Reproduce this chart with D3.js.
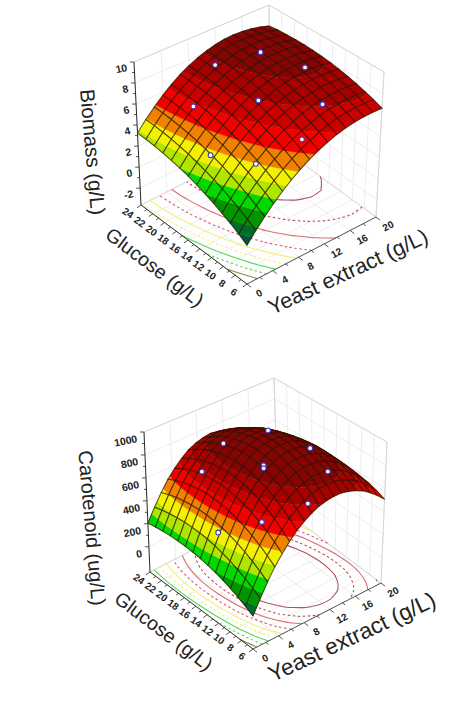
<!DOCTYPE html>
<html>
<head>
<meta charset="utf-8">
<title>Response surfaces</title>
<script src="https://cdn.jsdelivr.net/npm/d3@7"></script>
<style>
  html, body { margin: 0; background: #fff; }
  svg { display: block; }
  text { font-family: "Liberation Sans", Arial, sans-serif; fill: #222; }
</style>
</head>
<body>
<svg id="figure" width="453" height="701"></svg>
<script>
// Nodes at which the fitted surfaces are tabulated
const yeastNodes = [0, 1.67, 3.33, 5, 6.67, 8.33, 10, 11.67, 13.33, 15, 16.67, 18.33, 20];
const glucoseNodes = [6, 7.5, 9, 10.5, 12, 13.5, 15, 16.5, 18, 19.5, 21, 22.5, 24];

const yeastTicks = [0, 4, 8, 12, 16, 20];
const glucoseTicks = [6, 8, 10, 12, 14, 16, 18, 20, 22, 24];
const biomassTicks = [-2, 0, 2, 4, 6, 8, 10];
const carotenoidTicks = [0, 200, 400, 600, 800, 1000];

// Fitted biomass (g/L): one row per glucose node, one column per yeast node
const biomassRows = [
  [-0.20, 0.94, 1.98, 2.92, 3.74, 4.47, 5.09, 5.60, 6.01, 6.32, 6.52, 6.61, 6.60],
  [0.31, 1.45, 2.49, 3.41, 4.23, 4.95, 5.55, 6.05, 6.44, 6.72, 6.90, 6.97, 6.93],
  [0.78, 1.92, 2.95, 3.87, 4.68, 5.38, 5.97, 6.46, 6.83, 7.09, 7.24, 7.29, 7.22],
  [1.20, 2.34, 3.37, 4.29, 5.09, 5.78, 6.36, 6.82, 7.18, 7.42, 7.54, 7.56, 7.46],
  [1.59, 2.73, 3.75, 4.66, 5.46, 6.14, 6.70, 7.15, 7.49, 7.70, 7.81, 7.80, 7.68],
  [1.94, 3.08, 4.10, 5.00, 5.78, 6.45, 7.00, 7.44, 7.75, 7.95, 8.03, 8.00, 7.84],
  [2.25, 3.38, 4.40, 5.29, 6.07, 6.73, 7.26, 7.68, 7.98, 8.16, 8.21, 8.15, 7.97],
  [2.51, 3.65, 4.66, 5.55, 6.32, 6.96, 7.48, 7.89, 8.17, 8.32, 8.36, 8.27, 8.06],
  [2.74, 3.87, 4.88, 5.76, 6.52, 7.16, 7.67, 8.05, 8.31, 8.45, 8.46, 8.35, 8.11],
  [2.92, 4.06, 5.06, 5.94, 6.69, 7.31, 7.81, 8.18, 8.42, 8.53, 8.52, 8.38, 8.11],
  [3.07, 4.20, 5.20, 6.07, 6.81, 7.43, 7.91, 8.26, 8.49, 8.58, 8.54, 8.38, 8.08],
  [3.18, 4.31, 5.30, 6.17, 6.90, 7.50, 7.97, 8.31, 8.51, 8.58, 8.52, 8.33, 8.01],
  [3.24, 4.37, 5.36, 6.22, 6.95, 7.54, 7.99, 8.31, 8.50, 8.55, 8.46, 8.25, 7.89]
];

// Fitted carotenoid (ug/L), same layout
const carotenoidRows = [
  [40, 206, 348, 467, 564, 637, 687, 715, 719, 700, 658, 593, 505],
  [80, 256, 406, 532, 633, 709, 760, 785, 786, 762, 713, 639, 540],
  [115, 299, 457, 587, 692, 769, 820, 844, 841, 812, 756, 673, 564],
  [146, 337, 499, 634, 740, 818, 868, 889, 882, 847, 784, 693, 573],
  [172, 368, 534, 671, 778, 856, 904, 922, 910, 870, 799, 699, 569],
  [193, 392, 561, 698, 805, 882, 927, 942, 926, 880, 802, 694, 555],
  [209, 410, 579, 716, 822, 896, 939, 950, 929, 876, 792, 676, 528],
  [221, 421, 589, 725, 828, 899, 938, 945, 919, 860, 770, 647, 492],
  [228, 425, 590, 722, 822, 889, 924, 926, 896, 833, 737, 609, 449],
  [230, 422, 582, 710, 805, 867, 897, 895, 859, 792, 691, 559, 393],
  [227, 412, 566, 687, 776, 833, 858, 851, 811, 740, 637, 501, 334],
  [219, 394, 539, 652, 734, 786, 806, 795, 753, 679, 575, 440, 274],
  [207, 370, 503, 607, 681, 725, 740, 725, 681, 607, 503, 370, 207]
];

// Measured runs
const biomassRunYeast = [5, 10.1, 14.5, 2.6, 9.7, 16.7, 4.8, 9.7, 14.6];
const biomassRunGlucose = [10, 8.1, 9.6, 14.8, 14.7, 14.8, 19.9, 21.6, 19.6];
const biomassRunValue = [4.2, 5.7, 7.2, 3.9, 7.05, 8.2, 5.95, 7.9, 8.5];

const carotenoidRunYeast = [7.9, 12.4, 14.3, 4.7, 8, 8, 13.5, 9.1, 4.6, 1.9];
const carotenoidRunGlucose = [19.5, 17, 12.2, 19.7, 13, 13, 8.45, 6.9, 9.6, 14];
const carotenoidRunValue = [850, 935, 885, 675, 860, 835, 820, 700, 570, 410];

// Band edges on each surface; the first edge has no floor contour
const biomassLevels = [0.3, 0.9, 1.8, 2.6, 3.4, 4.2, 5.1, 6.1, 7.1, 8.0];
const carotenoidLevels = [50, 100, 185, 270, 355, 440, 525, 610, 695, 780];

const bandColors = ["#00553c", "#006e28", "#009600", "#00d800", "#aee600", "#f2f200",
                    "#f08200", "#f50000", "#cc0000", "#a80000", "#860404"];
const contourColors = [null, "#8c8c3c", "#58d858", "#58d858", "#f2f078", "#f2f078",
                       "#dc5a6e", "#dc6a6e", "#bc4c5c", "#b05460"];
const contourDashed = [false, false, true, false, true, false, true, false, true, false];

const svg = d3.select("#figure");

function drawPanel(cfg) {
  const g = svg.append("g");
  const ys = d3.scaleLinear().domain(d3.extent(yeastNodes)).range([0, 1]);
  const gs = d3.scaleLinear().domain(d3.extent(glucoseNodes)).range([0, 1]);
  const zs = d3.scaleLinear().domain(cfg.zDomain).range([0, 1]);

  const mix = (a, b, f) => [a[0] + (b[0] - a[0]) * f, a[1] + (b[1] - a[1]) * f];
  const plane = (c, t, p) => mix(mix(c.front, c.right, t), mix(c.left, c.back, t), p);
  const at = (t, p, w) => mix(plane(cfg.floor, t, p), plane(cfg.roof, t, p), w);
  const project = (yeast, glucose, value) => at(ys(yeast), gs(glucose), zs(value));

  const line = d3.line();
  const stroke = (pts, color, width, dash) => g.append("path")
    .attr("d", line(pts)).attr("fill", "none").attr("stroke", color)
    .attr("stroke-width", width).attr("stroke-dasharray", dash || null);

  // Back walls and floor grid
  const grid = "#ebebeb", edge = "#d2d2d2";
  cfg.zTicks.forEach(v => {
    const w = zs(v);
    stroke([at(0, 1, w), at(1, 1, w), at(1, 0, w)], grid, 0.9);
  });
  yeastTicks.forEach(v => {
    const t = ys(v);
    stroke([at(t, 0, 0), at(t, 1, 0), at(t, 1, 1)], grid, 0.9);
  });
  glucoseTicks.forEach(v => {
    const p = gs(v);
    stroke([at(0, p, 0), at(1, p, 0), at(1, p, 1)], grid, 0.9);
  });
  stroke([at(0, 1, 1), at(1, 1, 1), at(1, 0, 1), at(1, 0, 0)], edge, 0.9);
  stroke([at(1, 1, 0), at(1, 1, 1)], edge, 0.9);
  stroke([at(0, 1, 0), at(1, 1, 0), at(1, 0, 0)], edge, 0.9);

  // Contours of the surface projected on the floor
  const nx = yeastNodes.length, ny = glucoseNodes.length;
  const flat = cfg.rows.flat();
  const iy = d3.scaleLinear().domain([0.5, nx - 0.5]).range(d3.extent(yeastNodes));
  const ig = d3.scaleLinear().domain([0.5, ny - 0.5]).range(d3.extent(glucoseNodes));
  const inside = q => q[0] >= 0.5 - 1e-6 && q[0] <= nx - 0.5 + 1e-6 && q[1] >= 0.5 - 1e-6 && q[1] <= ny - 0.5 + 1e-6;
  const contourLine = d3.line().curve(d3.curveCatmullRom.alpha(0.5));
  cfg.levels.forEach((lv, i) => {
    if (!contourColors[i]) return;
    const shape = d3.contours().size([nx, ny]).thresholds([lv])(flat)[0];
    shape.coordinates.forEach(poly => poly.forEach(ring => {
      let pts = ring.slice(0, -1);
      const gap = pts.findIndex(q => !inside(q));
      if (gap > 0) pts = pts.slice(gap).concat(pts.slice(0, gap));
      const runs = [];
      let run = [];
      pts.forEach(q => {
        if (inside(q)) run.push(q);
        else { if (run.length > 1) runs.push(run); run = []; }
      });
      if (run.length > 1) runs.push(run);
      if (gap < 0) runs[0] && runs[0].push(runs[0][0]);
      runs.forEach(r => g.append("path")
        .attr("d", contourLine(r.map(q => at(ys(iy(q[0])), gs(ig(q[1])), 0))))
        .attr("fill", "none")
        .attr("stroke", contourColors[i])
        .attr("stroke-width", 1.1)
        .attr("stroke-dasharray", contourDashed[i] ? "2.5,2.5" : null));
    }));
  });

  // Axes with major and minor ticks
  const ink = "#2a2a2a";
  const tickMark = (pt, dx, dy, len) =>
    stroke([pt, [pt[0] + dx * len, pt[1] + dy * len]], ink, 0.8);
  stroke([at(0, 0, 0), at(0, 1, 0)], ink, 1);
  stroke([at(0, 0, 0), at(1, 0, 0)], "#555", 1);
  stroke([at(0, 1, 0), at(0, 1, 1)], ink, 1);

  const minor = (ticks) => d3.pairs(ticks).map(([a, b]) => (a + b) / 2);
  glucoseTicks.forEach(v => tickMark(at(0, gs(v), 0), -1, 0.7, 4));
  minor(glucoseTicks).forEach(v => tickMark(at(0, gs(v), 0), -1, 0.7, 2.5));
  yeastTicks.forEach(v => tickMark(at(ys(v), 0, 0), 1, 0.8, 4));
  minor(yeastTicks).forEach(v => tickMark(at(ys(v), 0, 0), 1, 0.8, 2.5));
  cfg.zTicks.forEach(v => tickMark(at(0, 1, zs(v)), -1, 0, 4));
  minor(cfg.zTicks).forEach(v => tickMark(at(0, 1, zs(v)), -1, 0, 2.5));

  const label = (txt, pt, rot, anchor, size, weight) => g.append("text")
    .attr("transform", `translate(${pt[0]},${pt[1]}) rotate(${rot})`)
    .attr("text-anchor", anchor)
    .attr("dominant-baseline", "central")
    .attr("font-size", size)
    .attr("font-weight", weight)
    .text(txt);

  glucoseTicks.forEach(v => {
    const q = at(0, gs(v), 0);
    label(v, [q[0] + cfg.gOff[0], q[1] + cfg.gOff[1]], 35, "middle", 10, 700);
  });
  yeastTicks.forEach(v => {
    const q = at(ys(v), 0, 0);
    label(v, [q[0] + cfg.yOff[0], q[1] + cfg.yOff[1]], -28, "middle", 10, 700);
  });
  cfg.zTicks.forEach(v => {
    const q = at(0, 1, zs(v));
    label(v, [q[0] + cfg.zOff[0], q[1] + cfg.zOff[1]], -12, "end", 10.5, 700);
  });

  label(cfg.zTitle, cfg.zTitlePos, 85, "middle", cfg.zTitleSize, 400);
  label("Glucose (g/L)", cfg.gTitlePos, 37, "middle", cfg.gTitleSize, 400);
  label("Yeast extract (g/L)", cfg.yTitlePos, -25, "middle", cfg.yTitleSize, 400);

  // Height of the tabulated surface at any mesh position
  const cellOf = (nodes, v) => Math.min(nodes.length - 2, Math.max(0, d3.bisectRight(nodes, v) - 1));
  const surfaceAt = (yeast, glucose) => {
    const j = cellOf(yeastNodes, yeast), k = cellOf(glucoseNodes, glucose);
    const fy = (yeast - yeastNodes[j]) / (yeastNodes[j + 1] - yeastNodes[j]);
    const fg = (glucose - glucoseNodes[k]) / (glucoseNodes[k + 1] - glucoseNodes[k]);
    const low = cfg.rows[k][j] + (cfg.rows[k][j + 1] - cfg.rows[k][j]) * fy;
    const high = cfg.rows[k + 1][j] + (cfg.rows[k + 1][j + 1] - cfg.rows[k + 1][j]) * fy;
    return low + (high - low) * fg;
  };
  const meshYeast = d3.scaleLinear().domain([0, cfg.meshCols]).range(d3.extent(yeastNodes));
  const meshGlucose = d3.scaleLinear().domain([0, cfg.meshRows]).range(d3.extent(glucoseNodes));

  // Surface painted cell by cell from the far corner towards the viewer
  const bands = d3.pairs([-Infinity, ...cfg.levels, Infinity]);
  const clipAbove = (poly, lim) => clip(poly, v => v.z >= lim, lim);
  const clipBelow = (poly, lim) => clip(poly, v => v.z <= lim, lim);
  function clip(poly, keep, lim) {
    const out = [];
    poly.forEach((a, i) => {
      const b = poly[(i + 1) % poly.length];
      const ka = keep(a), kb = keep(b);
      if (ka) out.push(a);
      if (ka !== kb) {
        const f = (lim - a.z) / (b.z - a.z);
        out.push({ y: a.y + (b.y - a.y) * f, g: a.g + (b.g - a.g) * f, z: lim });
      }
    });
    return out;
  }
  const node = (j, k) => {
    const y = meshYeast(j), gl = meshGlucose(k);
    return { y, g: gl, z: surfaceAt(y, gl) };
  };
  const closed = d3.line().curve(d3.curveLinearClosed);
  for (let j = cfg.meshCols - 1; j >= 0; j--) {
    for (let k = cfg.meshRows - 1; k >= 0; k--) {
      const quad = [node(j, k), node(j + 1, k), node(j + 1, k + 1), node(j, k + 1)];
      bands.forEach(([lo, hi], b) => {
        let part = quad;
        if (isFinite(lo)) part = clipAbove(part, lo);
        if (part.length && isFinite(hi)) part = clipBelow(part, hi);
        if (part.length < 3) return;
        g.append("path")
          .attr("d", closed(part.map(v => project(v.y, v.g, v.z))))
          .attr("fill", bandColors[b])
          .attr("stroke", bandColors[b])
          .attr("stroke-width", 0.4);
      });
      g.append("path")
        .attr("d", closed(quad.map(v => project(v.y, v.g, v.z))))
        .attr("fill", "none")
        .attr("stroke", "#2a1500")
        .attr("stroke-opacity", 0.72)
        .attr("stroke-width", 1.05);
    }
  }

  // Measured runs on top of the surface
  cfg.runValue.forEach((v, i) => {
    const q = project(cfg.runYeast[i], cfg.runGlucose[i], v);
    g.append("circle")
      .attr("cx", q[0]).attr("cy", q[1]).attr("r", 2.4)
      .attr("fill", "#fff").attr("stroke", "#3a3ac8").attr("stroke-width", 1.1);
  });
}

drawPanel({
  rows: biomassRows,
  levels: biomassLevels,
  meshCols: 15, meshRows: 13,
  zDomain: [-3.6, 10],
  zTicks: biomassTicks,
  floor: { front: [247, 284], left: [141, 205], right: [376, 217], back: [270, 140] },
  roof: { front: [247, 129], left: [134, 62], right: [384, 72], back: [269, 5] },
  runYeast: biomassRunYeast, runGlucose: biomassRunGlucose, runValue: biomassRunValue,
  gOff: [-13, 8], yOff: [12, 9], zOff: [-7, 5],
  zTitle: "Biomass (g/L)", zTitlePos: [93, 152], gTitlePos: [155, 267], yTitlePos: [348, 272],
  zTitleSize: 20.5, gTitleSize: 19.5, yTitleSize: 21.5
});

drawPanel({
  rows: carotenoidRows,
  levels: carotenoidLevels,
  meshCols: 18, meshRows: 14,
  zDomain: [-220, 1000],
  zTicks: carotenoidTicks,
  floor: { front: [253, 649], left: [150, 572], right: [381, 583], back: [278, 506] },
  roof: { front: [253, 494], left: [144, 432], right: [387, 442], back: [274, 378] },
  runYeast: carotenoidRunYeast, runGlucose: carotenoidRunGlucose, runValue: carotenoidRunValue,
  gOff: [-11, 7], yOff: [12, 9], zOff: [-7, 6],
  zTitle: "Carotenoid (ug/L)", zTitlePos: [92, 528], gTitlePos: [164, 631], yTitlePos: [352, 637],
  zTitleSize: 20, gTitleSize: 19.5, yTitleSize: 22.5
});
</script>
</body>
</html>
